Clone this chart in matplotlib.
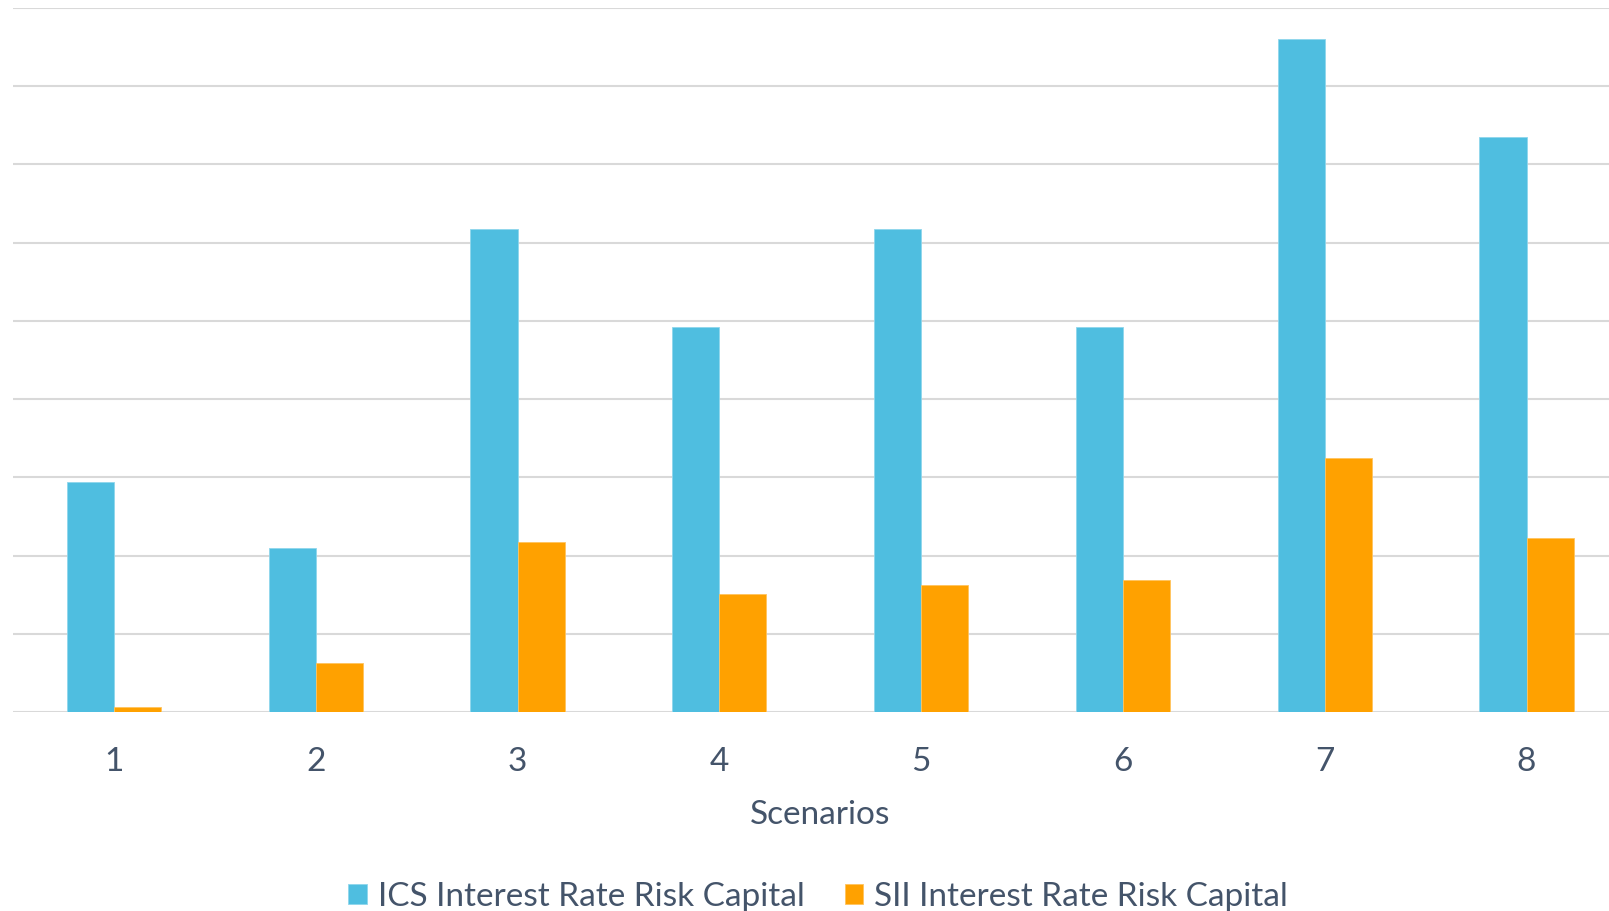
import matplotlib.pyplot as plt
import numpy as np

# Data (units = gridline steps, axis has no labels)
scenarios = ['1', '2', '3', '4', '5', '6', '7', '8']
ics_capital = [2.94, 2.10, 6.18, 4.92, 6.18, 4.92, 8.60, 7.35]
sii_capital = [0.06, 0.63, 2.17, 1.51, 1.62, 1.69, 3.25, 2.23]
series_names = ['ICS Interest Rate Risk Capital', 'SII Interest Rate Risk Capital']

blue = '#4FBEE0'
orange = '#FFA100'
text_col = '#44546A'
grid_col = '#D9D9D9'

plt.rcParams['font.family'] = ['Lato', 'DejaVu Sans']

W, H = 1609, 911
fig = plt.figure(figsize=(W / 100, H / 100), dpi=100)

# axes runs past the right edge, as in the reference (last category is cut off)
left_px, top_px, base_px = 13, 8, 712
cat_w = 201.8
ax = fig.add_axes([left_px / W, 1 - base_px / H, 8 * cat_w / W, (base_px - top_px) / H])

x = np.arange(len(scenarios))
bw = 0.233
ax.bar(x - bw / 2, ics_capital, bw, color=blue, edgecolor='#8FD6EC', linewidth=0.6,
       label=series_names[0], zorder=3)
ax.bar(x + bw / 2, sii_capital, bw, color=orange, edgecolor='#FFC45E', linewidth=0.6,
       label=series_names[1], zorder=3)

ax.set_xlim(-0.5, len(scenarios) - 0.5)
ax.set_ylim(0, 9)
ax.set_yticks(np.arange(0, 10))
ax.set_yticklabels([])
ax.yaxis.grid(True, color=grid_col, linewidth=1.5, zorder=0)
ax.tick_params(axis='y', length=0)
ax.set_xticks(x)
ax.set_xticklabels(scenarios, fontsize=24, color=text_col)
ax.tick_params(axis='x', length=0, pad=25)
for s in ax.spines.values():
    s.set_visible(False)
ax.set_xlabel('Scenarios', fontsize=24, color=text_col)
ax.xaxis.set_label_coords((820 - left_px) / (8 * cat_w), -(800 - base_px) / (base_px - top_px))

handles, labels = ax.get_legend_handles_labels()
leg = fig.legend(handles, labels, loc='center', bbox_to_anchor=(818 / W, 1 - 897 / H),
                 ncol=2, frameon=False, fontsize=24, handlelength=0.56, handleheight=0.56,
                 handletextpad=0.32, columnspacing=1.2)
for t in leg.get_texts():
    t.set_color(text_col)

fig.savefig('out.png', dpi=100)
